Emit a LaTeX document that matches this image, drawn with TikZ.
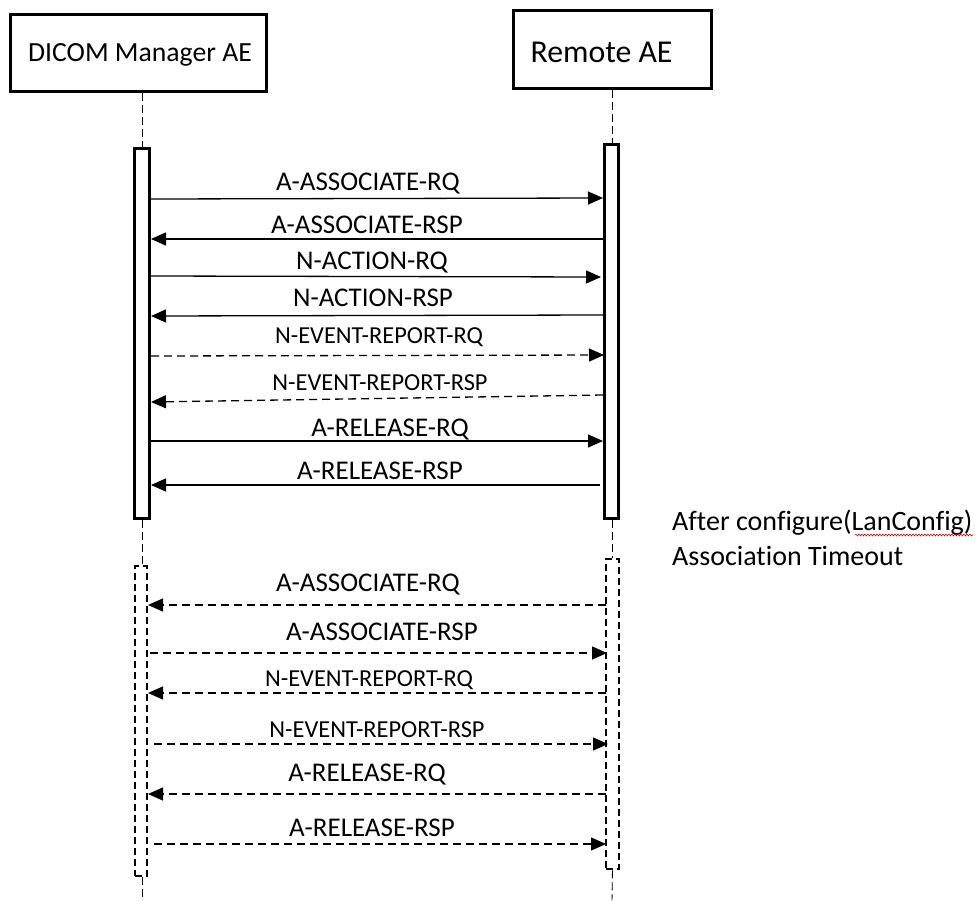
\documentclass[tikz,border=0pt]{standalone}
\usepackage{fontspec}
\setmainfont[Ligatures=NoCommon]{Carlito}
\usetikzlibrary{arrows.meta,decorations.pathmorphing}
\begin{document}
\begin{tikzpicture}[x=1pt,y=-1pt,
  hdrbox/.style={draw, line width=2.8pt, inner sep=0pt},
  actbar/.style={draw, line width=2.5pt, fill=white, inner sep=0pt},
  actdash/.style={draw, line width=2.6pt, dash pattern=on 7pt off 4pt, inner sep=0pt},
  lifeline/.style={line width=0.9pt, dash pattern=on 8pt off 4pt},
  msg/.style={line width=1.3pt, -{Triangle[length=15pt,width=13pt]}},
  msgdash/.style={msg, dash pattern=on 8pt off 5pt},
  lbl/.style={anchor=base, inner sep=0pt, font=\fontsize{27}{32}\selectfont},
  lbls/.style={anchor=base, inner sep=0pt, font=\fontsize{24.4}{29}\selectfont}
]
\useasboundingbox (0,0) rectangle (980,900);

% headers
\node[hdrbox, minimum width=256pt, minimum height=77pt] (mgr) at (138.5,53) {};
\node[lbl, font=\fontsize{27.7}{33}\selectfont] (mgrt) at (140,61.7) {DICOM Manager AE};
\node[hdrbox, minimum width=198pt, minimum height=78pt] (rem) at (612.5,49.5) {};
\node[lbl, font=\fontsize{31.8}{38}\selectfont] (remt) at (601.5,62.3) {Remote AE};

% activation bars
\node[actbar, minimum width=15pt, minimum height=370pt] (barL1) at (142,333.5) {};
\node[actbar, minimum width=14pt, minimum height=374pt] (barR1) at (611.5,331.5) {};
\node[actdash, minimum width=12pt, minimum height=310pt] (barL2) at (141,721) {};
\node[actdash, minimum width=13pt, minimum height=310pt] (barR2) at (612.5,714) {};

% lifelines
\coordinate (lifeLend) at (142,900);
\coordinate (lifeRend) at (612,900);
\draw[lifeline] (barL1.north |- mgr.south) -- (barL1.north);
\draw[lifeline] (barL1.south) -- (barL1.south |- barL2.north);
\draw[lifeline] (barL1.south |- barL2.south) -- (lifeLend);
\draw[lifeline] (barR2.north |- rem.south) -- (barR2.north |- barR1.north);
\draw[lifeline] (barR2.north |- barR1.south) -- (barR2.north);
\draw[lifeline] (barR2.south) -- (lifeRend);

% message end points, first association
\coordinate (a1l) at (151,199);  \coordinate (a1r) at (603,198);
\coordinate (a2l) at (151,239);  \coordinate (a2r) at (603,239);
\coordinate (a3l) at (151,276);  \coordinate (a3r) at (601,277);
\coordinate (a4l) at (151,316);  \coordinate (a4r) at (603,315);
\coordinate (a5l) at (151,356);  \coordinate (a5r) at (604,355);
\coordinate (a6l) at (151,402);  \coordinate (a6r) at (603,395);
\coordinate (a7l) at (151,441);  \coordinate (a7r) at (603,441);
\coordinate (a8l) at (151,485);  \coordinate (a8r) at (600,485);
% second association
\coordinate (b1l) at (148,605);  \coordinate (b1r) at (606,605);
\coordinate (b2l) at (150,653);  \coordinate (b2r) at (607,653);
\coordinate (b3l) at (148,693);  \coordinate (b3r) at (606,693);
\coordinate (b4l) at (154,744);  \coordinate (b4r) at (608,744);
\coordinate (b5l) at (148,794);  \coordinate (b5r) at (606,794);
\coordinate (b6l) at (154,844);  \coordinate (b6r) at (606,844);

\draw[msg] (a1l) -- (a1r);
\draw[msg] (a2r) -- (a2l);
\draw[msg] (a3l) -- (a3r);
\draw[msg] (a4r) -- (a4l);
\draw[msgdash] (a5l) -- (a5r);
\draw[msgdash] (a6r) -- (a6l);
\draw[msg] (a7l) -- (a7r);
\draw[msg] (a8r) -- (a8l);

\draw[msgdash] (b1r) -- (b1l);
\draw[msgdash] (b2l) -- (b2r);
\draw[msgdash] (b3r) -- (b3l);
\draw[msgdash] (b4l) -- (b4r);
\draw[msgdash] (b5r) -- (b5l);
\draw[msgdash] (b6l) -- (b6r);

% labels
\node[lbl]  (t1) at (368,190)   {A-ASSOCIATE-RQ};
\node[lbl]  (t2) at (367,233)   {A-ASSOCIATE-RSP};
\node[lbl]  (t3) at (372,269)   {N-ACTION-RQ};
\node[lbl]  (t4) at (373,306.7) {N-ACTION-RSP};
\node[lbls] (t5) at (379,343)   {N-EVENT-REPORT-RQ};
\node[lbls] (t6) at (380,390)   {N-EVENT-REPORT-RSP};
\node[lbl]  (t7) at (390,436.7) {A-RELEASE-RQ};
\node[lbl]  (t8) at (380,479)   {A-RELEASE-RSP};

\node[lbl]  (u1) at (368,591.7) {A-ASSOCIATE-RQ};
\node[lbl]  (u2) at (382,640)   {A-ASSOCIATE-RSP};
\node[lbls] (u3) at (369,686)   {N-EVENT-REPORT-RQ};
\node[lbls] (u4) at (377,737.3) {N-EVENT-REPORT-RSP};
\node[lbl]  (u5) at (367,781.7) {A-RELEASE-RQ};
\node[lbl]  (u6) at (372,836.7) {A-RELEASE-RSP};

% annotation
\node[anchor=base west, inner sep=0pt, font=\fontsize{28}{35}\selectfont] (note1) at (672,530) {After configure(LanConfig)};
\node[anchor=base west, inner sep=0pt, font=\fontsize{28}{35}\selectfont] (note2) at (672,565) {Association Timeout};
\coordinate (wavyA) at (855,535);
\coordinate (wavyB) at (973,535);
\draw[red!80!black, line width=0.6pt, decorate, decoration={snake, amplitude=0.9pt, segment length=3pt}] (wavyA) -- (wavyB);
\end{tikzpicture}
\end{document}
